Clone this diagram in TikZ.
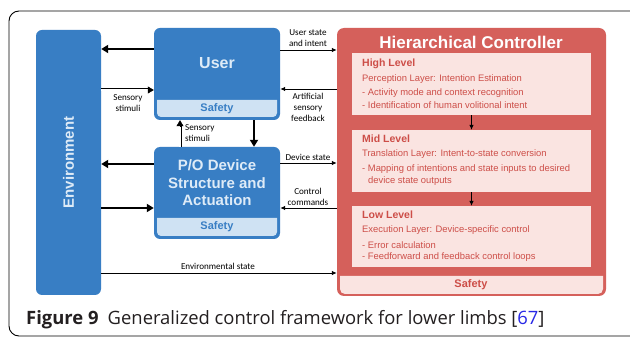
\documentclass[tikz,border=0pt]{standalone}
\usepackage{fontspec}
\setmainfont{Open Sans}
\newfontfamily\arialf{Liberation Sans}
\newfontfamily\calf{Carlito}
\usetikzlibrary{arrows.meta}
\definecolor{cblue}{RGB}{56,126,196}
\definecolor{clblue}{RGB}{207,226,243}
\definecolor{cwtext}{RGB}{222,235,247}
\definecolor{cred}{RGB}{213,96,91}
\definecolor{cpink}{RGB}{250,228,225}
\definecolor{credtext}{RGB}{205,78,72}
\definecolor{ccap}{RGB}{35,31,32}
\definecolor{clink}{RGB}{40,40,230}
\tikzset{
  bluebox/.style={fill=cblue,draw=none,rounded corners=6pt,inner sep=0pt},
  redbox/.style={fill=cred,draw=none,rounded corners=7pt,inner sep=0pt},
  levelbox/.style={fill=cpink,draw=none,inner sep=0pt},
  bigtxt/.style={font=\arialf\bfseries\fontsize{15}{17.5}\selectfont,text=cwtext,align=center},
  safetxt/.style={font=\arialf\bfseries\fontsize{11}{13}\selectfont,text=cblue},
  lbl/.style={font=\calf\fontsize{9.1}{11}\selectfont,align=center,inner sep=0pt},
  lvlhead/.style={font=\arialf\bfseries\fontsize{10.5}{12}\selectfont,text=credtext,anchor=west,inner sep=0pt},
  lvltxt/.style={font=\arialf\fontsize{9.4}{11.5}\selectfont,text=credtext,anchor=west,inner sep=0pt},
  thickarr/.style={line width=2.6pt,-{Triangle[length=7pt,width=8pt]}},
  thinarr/.style={line width=0.9pt,-{Latex[length=5pt,width=4.5pt]}},
  dbl/.style={double=white,double distance=1.6pt,line width=0.7pt},
  dbltip/.style={-{Triangle[length=6pt,width=7pt]}},
}
\begin{document}
\begin{tikzpicture}[x=1pt,y=-1pt]
\useasboundingbox (0,0) rectangle (630,339);
\fill[white] (0,0) rectangle (630,339);
% outer frame
\draw[line width=0.9pt,rounded corners=10pt] (9,11) rectangle (640,336);

% Environment
\node[bluebox,minimum width=65,minimum height=265] (env) at (68.5,162.5) {};
\node[bigtxt,font=\arialf\bfseries\fontsize{15}{17}\selectfont,rotate=90] (envt) at (env.center) {Environment};

% User
\node[bluebox,minimum width=126,minimum height=92] (user) at (217,74) {};
\fill[clblue] (157,100) -- (277,100) [rounded corners=4pt] -- (277,117) -- (157,117) [sharp corners] -- cycle;
\node[bigtxt,font=\arialf\bfseries\fontsize{16}{18}\selectfont] (usert) at (217,63) {User};
\node[safetxt] (users) at (217,108.5) {Safety};

% P/O device
\node[bluebox,minimum width=126,minimum height=92] (po) at (217,193) {};
\fill[clblue] (157,218) -- (277,218) [rounded corners=4pt] -- (277,236) -- (157,236) [sharp corners] -- cycle;
\node[bigtxt] (pot) at (217,183) {P/O Device\\Structure and\\Actuation};
\node[safetxt] (pos) at (217,227) {Safety};

% Hierarchical controller
\node[redbox,minimum width=269,minimum height=268] (hc) at (471.5,162) {};
\fill[cpink] (340,276) -- (603,276) [rounded corners=5pt] -- (603,294) -- (340,294) [sharp corners] -- cycle;
\node[font=\arialf\bfseries\fontsize{17}{19}\selectfont,text=white] (hct) at (471,42) {Hierarchical Controller};
\node[safetxt,text=credtext] (hcs) at (471,285) {Safety};

\node[levelbox,minimum width=239,minimum height=62] (high) at (471.5,84) {};
\node[levelbox,minimum width=239,minimum height=62] (mid) at (471.5,161) {};
\node[levelbox,minimum width=239,minimum height=61] (low) at (471.5,236.5) {};

\node[lvlhead] at (362,64) {High Level};
\node[lvltxt] at (362,79) {Perception Layer: Intention Estimation};
\node[lvltxt] at (362,93.5) {- Activity mode and context recognition};
\node[lvltxt] at (362,105) {- Identification of human volitional intent};

\node[lvlhead] at (362,138.5) {Mid Level};
\node[lvltxt] at (362,154.5) {Translation Layer: Intent-to-state conversion};
\node[lvltxt] at (362,169) {- Mapping of intentions and state inputs to desired};
\node[lvltxt] at (368,181) {device state outputs};

\node[lvlhead] at (362,214.5) {Low Level};
\node[lvltxt] at (362,230.5) {Execution Layer: Device-specific control};
\node[lvltxt] at (362,245.5) {- Error calculation};
\node[lvltxt] at (362,257) {- Feedforward and feedback control loops};

\draw[thinarr,line width=0.8pt] (high.south) -- (mid.north);
\draw[thinarr,line width=0.8pt] (mid.south) -- (low.north);

% arrows environment <-> user / device
\draw[thickarr] (user.west |- 0,49) -- (env.east |- 0,49);
\draw[dbl] (env.east |- 0,90) -- ([xshift=-5pt]user.west |- 0,90);
\draw[dbltip] ([xshift=-6pt]user.west |- 0,90) -- (user.west |- 0,90);
\node[lbl] (l1) at (128,103.5) {Sensory\\stimuli};

\draw[thickarr] (po.west |- 0,164) -- (env.east |- 0,164);
\draw[thickarr] (env.east |- 0,208) -- (po.west |- 0,208);

% user <-> device
\draw[thickarr] (user.south -| 254,0) -- (po.north -| 254,0);
\draw[dbl] (po.north -| 180,0) -- ([yshift=-5pt]user.south -| 180,0);
\draw[dbltip] ([yshift=-6pt]user.south -| 180,0) -- (user.south -| 180,0);
\node[lbl,align=left,anchor=west] (l2) at (185,133.5) {Sensory\\stimuli};

% user/device <-> controller
\draw[thinarr] (user.east |- 0,50) -- (hc.west |- 0,50);
\node[lbl] (l3) at (308,38.5) {User state\\and intent};
\draw[thinarr] (hc.west |- 0,89) -- (user.east |- 0,89);
\node[lbl] (l4) at (308,107) {Artificial\\sensory\\feedback};
\draw[thinarr] (po.east |- 0,163) -- (hc.west |- 0,163);
\node[lbl] (l5) at (308,157) {Device state};
\draw[thinarr] (hc.west |- 0,208) -- (po.east |- 0,208);
\node[lbl] (l6) at (308,196.5) {Control\\commands};
\draw[thinarr] (env.east |- 0,273) -- (hc.west |- 0,273);
\node[lbl] (l7) at (218,266) {Environmental state};

% caption
\node[anchor=base west,inner sep=0pt,text=ccap,font=\fontsize{18.4}{22}\selectfont] (cap) at (26,325)
  {\textbf{Figure 9}\hspace{0.5em}Generalized control framework for lower limbs [{\color{clink}67}]};
\end{tikzpicture}
\end{document}
